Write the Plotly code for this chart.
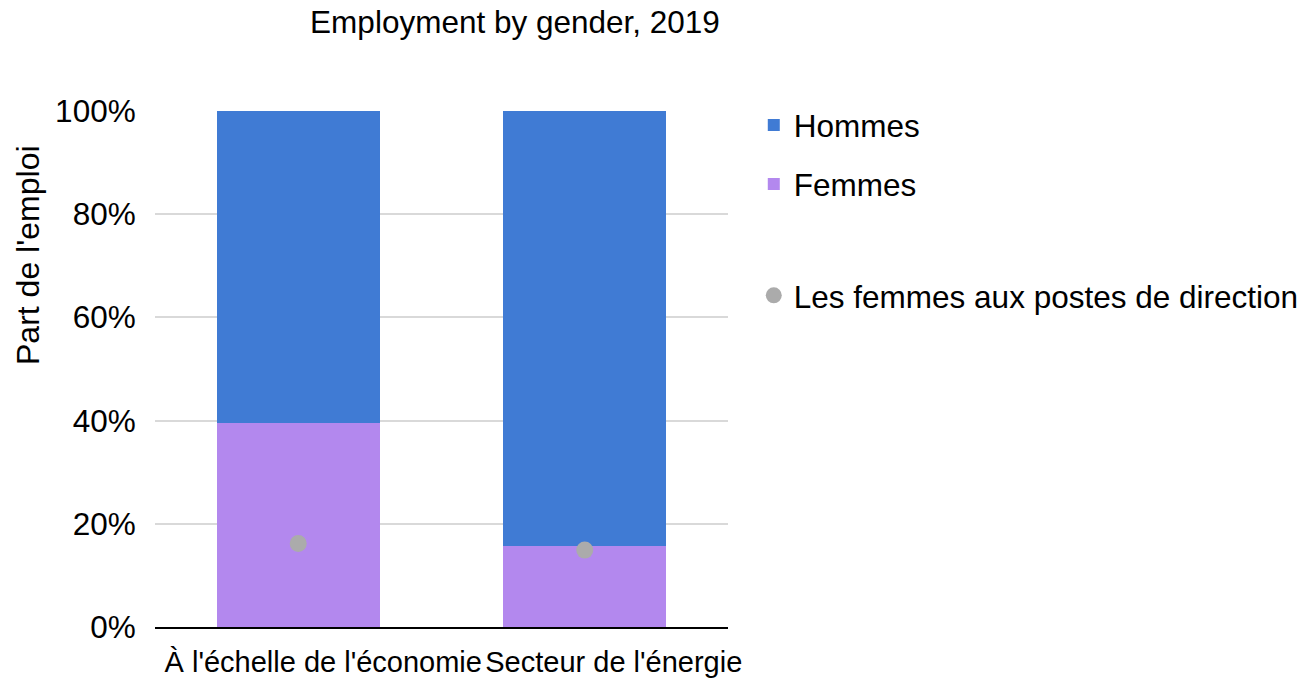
import plotly.graph_objects as go

categories = ["À l'échelle de l'économie", "Secteur de l'énergie"]
femmes = [39.6, 15.7]
hommes = [60.4, 84.3]
femmes_direction = [16.2, 14.9]

y_ticks = [0, 20, 40, 60, 80, 100]
y_ticktext = [f"{v}%" for v in y_ticks]
# a leading no-break space pushes the second label a little further right
x_ticktext = [categories[0], "\u00a0" + categories[1]]

FONT = "Liberation Sans, Arial, sans-serif"

fig = go.Figure()

fig.add_trace(go.Bar(
    x=categories,
    y=femmes,
    name="Femmes",
    marker=dict(color="#B388EE", line=dict(width=0)),
    legendgroup="femmes",
    legendrank=2,
))
fig.add_trace(go.Bar(
    x=categories,
    y=hommes,
    name="Hommes",
    marker=dict(color="#407BD4", line=dict(width=0)),
    legendgroup="hommes",
    legendrank=1,
))
fig.add_trace(go.Scatter(
    x=categories,
    y=femmes_direction,
    mode="markers",
    name="Les femmes aux postes de direction",
    marker=dict(color="#ABABAB", size=17),
    legend="legend2",
))

# page body adds an 8px offset, so the figure is sized a bit smaller
fig.update_layout(
    width=1305,
    height=673,
    barmode="stack",
    bargap=0.43,
    plot_bgcolor="white",
    paper_bgcolor="white",
    font=dict(family=FONT, size=31, color="#000000"),
    margin=dict(l=147, r=585, t=103, b=54, autoexpand=False),
    title=dict(
        text="Employment by gender, 2019",
        x=0.3885, xanchor="center",
        y=0.98, yanchor="middle",
        font=dict(size=31.5),
    ),
    legend=dict(
        x=1.045, xanchor="left",
        y=1.025, yanchor="top",
        tracegroupgap=15,
        font=dict(size=31.5),
        bgcolor="rgba(0,0,0,0)",
    ),
    legend2=dict(
        x=1.045, xanchor="left",
        y=0.695, yanchor="top",
        font=dict(size=31.5),
        bgcolor="rgba(0,0,0,0)",
    ),
    xaxis=dict(
        showgrid=False,
        showline=True,
        linecolor="#000000",
        linewidth=2,
        ticks="",
        tickangle=0,
        tickvals=categories,
        ticktext=x_ticktext,
        tickfont=dict(size=29),
        ticklabelshift=25,
        ticklabelstandoff=8,
        automargin=False,
    ),
    yaxis=dict(
        range=[0, 100],
        tickvals=y_ticks,
        ticktext=y_ticktext,
        tickfont=dict(size=31.5),
        showgrid=True,
        gridcolor="#D9D9D9",
        gridwidth=2,
        zeroline=False,
        ticks="outside",
        ticklen=12,
        tickcolor="rgba(0,0,0,0)",
        automargin=False,
    ),
    annotations=[dict(
        text="Part de l'emploi",
        xref="paper", yref="paper",
        x=-0.2216, y=0.721,
        xanchor="center", yanchor="middle",
        textangle=-90,
        showarrow=False,
        font=dict(size=32),
    )],
)

fig.write_html("out.html")
